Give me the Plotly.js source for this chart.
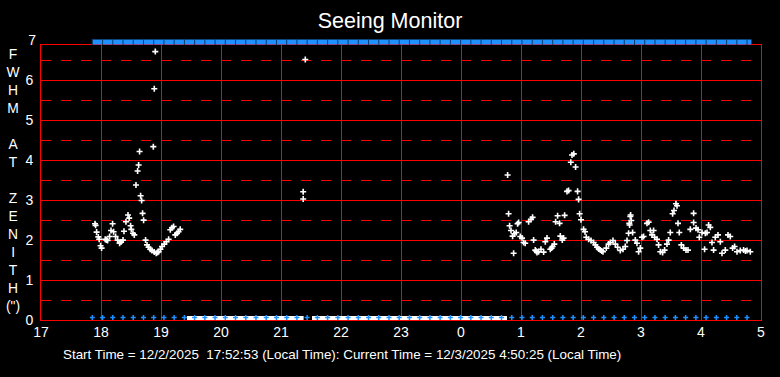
<!DOCTYPE html>
<html>
<head>
<meta charset="utf-8">
<script src="https://cdn.plot.ly/plotly-3.0.1.min.js"></script>
<style>
html,body{margin:0;padding:0;background:#000;}
#chart{width:780px;height:377px;}
</style>
</head>
<body>
<div id="chart"></div>
<script>
// ---- data (hours; values after midnight continue as 24+) ----
var xTickVals = [17, 18, 19, 20, 21, 22, 23, 24, 25, 26, 27, 28, 29];
var xTickText = ['17', '18', '19', '20', '21', '22', '23', '0', '1', '2', '3', '4', '5'];
var yTickVals = [0, 1, 2, 3, 4, 5, 6];
var yTopTickVals = [7];

var fwhmTime = [
  17.900, 17.910, 17.927, 17.955, 17.970, 17.993, 18.010, 18.070, 18.090, 18.110, 18.143, 18.167,
  18.193, 18.210, 18.243, 18.277, 18.310, 18.333, 18.367, 18.383, 18.416, 18.450, 18.470, 18.493,
  18.505, 18.533, 18.555, 18.583, 18.610, 18.627, 18.643, 18.660, 18.677, 18.693, 18.710, 18.743,
  18.767, 18.793, 18.820, 18.850, 18.872, 18.888, 18.888, 18.905, 18.920, 18.940, 18.960, 18.990,
  19.017, 19.055, 19.090, 19.127, 19.155, 19.183, 19.210, 19.238, 19.267, 19.293, 19.320,
  21.370, 21.370, 21.405,
  24.777, 24.793, 24.810, 24.833, 24.860, 24.877, 24.888, 24.920, 24.943, 24.960, 24.988, 25.017,
  25.043, 25.070, 25.127, 25.167, 25.193, 25.210, 25.238, 25.255, 25.267, 25.293, 25.333, 25.377,
  25.405, 25.433, 25.488, 25.510, 25.527, 25.555, 25.577, 25.610, 25.643, 25.655, 25.688, 25.710,
  25.727, 25.767, 25.793, 25.830, 25.850, 25.880, 25.910, 25.943, 25.960, 25.977, 26.000, 26.043,
  26.067, 26.088, 26.127, 26.167, 26.210, 26.240, 26.267, 26.295, 26.322, 26.345, 26.367, 26.422,
  26.460, 26.488, 26.533, 26.572, 26.610, 26.655, 26.700, 26.738, 26.767, 26.793, 26.805, 26.810,
  26.822, 26.827, 26.838, 26.860, 26.905, 26.933, 26.960, 26.988, 27.017, 27.043, 27.100, 27.127,
  27.155, 27.183, 27.210, 27.227, 27.267, 27.293, 27.322, 27.360, 27.393, 27.433, 27.460, 27.488,
  27.527, 27.550, 27.583, 27.600, 27.617, 27.638, 27.672, 27.710, 27.750, 27.783, 27.822, 27.877,
  27.877, 27.917, 27.950, 27.972, 28.017, 28.060, 28.072, 28.100, 28.127, 28.155, 28.183, 28.210,
  28.238, 28.283, 28.322, 28.350, 28.405, 28.450, 28.488, 28.527, 28.560, 28.600, 28.655, 28.710,
  28.740, 28.767, 28.822
];
var fwhmValue = [
  2.41, 2.37, 2.20, 2.08, 2.02, 1.86, 1.80, 2.02, 2.00, 1.99, 2.09, 2.24,
  2.41, 2.21, 2.09, 2.00, 1.92, 1.95, 2.00, 2.22, 2.46, 2.63, 2.55, 2.36,
  2.27, 2.17, 2.13, 3.38, 3.73, 3.88, 4.22, 3.11, 2.99, 2.67, 2.50, 2.00,
  1.88, 1.82, 1.77, 1.74, 4.34, 1.70, 5.79, 6.72, 1.67, 1.69, 1.71, 1.77,
  1.84, 1.90, 1.96, 2.02, 2.26, 2.31, 2.34, 2.13, 2.17, 2.21, 2.27,
  3.21, 3.03, 6.52,
  3.63, 2.66, 2.36, 2.24, 2.10, 1.67, 2.16, 2.19, 2.41, 2.44, 2.09, 2.05,
  1.94, 1.92, 2.46, 2.52, 2.57, 2.00, 1.75, 1.72, 1.69, 1.71, 1.77, 1.70,
  1.96, 2.05, 1.77, 1.80, 1.84, 1.90, 2.46, 2.61, 2.42, 2.10, 2.00, 2.05,
  2.62, 3.22, 3.24, 3.95, 4.13, 4.16, 3.83, 3.22, 3.02, 2.66, 2.51, 2.27,
  2.21, 2.07, 2.02, 1.99, 1.94, 1.88, 1.82, 1.78, 1.75, 1.73, 1.71, 1.80,
  1.90, 1.94, 1.99, 1.90, 1.82, 1.74, 1.77, 1.84, 1.99, 2.17, 2.42, 2.38,
  2.59, 2.63, 2.49, 2.19, 2.00, 1.92, 1.71, 1.80, 2.07, 2.09, 2.42, 2.45,
  2.24, 2.13, 2.24, 2.07, 2.02, 1.88, 1.71, 1.69, 1.75, 1.90, 2.00, 2.19,
  2.66, 2.74, 2.91, 2.86, 2.42, 2.19, 1.88, 1.80, 1.75, 1.75, 2.27, 2.67,
  2.44, 2.30, 2.26, 2.07, 2.19, 1.77, 2.17, 2.19, 2.38, 2.32, 1.94, 1.75,
  2.07, 2.13, 1.96, 1.67, 1.75, 2.13, 2.09, 1.80, 1.84, 1.71, 1.74, 1.75,
  1.73, 1.74, 1.71
];

// 10-minute status marks (top row and bottom row share these times)
var statusTime = [
  17.855, 18.026, 18.196, 18.367, 18.537, 18.708, 18.878, 19.049, 19.219, 19.390,
  19.560, 19.731, 19.901, 20.072, 20.242, 20.413, 20.583, 20.754, 20.924, 21.095,
  21.265, 21.436, 21.606, 21.777, 21.947, 22.118, 22.288, 22.459, 22.629, 22.800,
  22.970, 23.141, 23.311, 23.482, 23.652, 23.823, 23.993, 24.164, 24.334, 24.505,
  24.675, 24.846, 25.016, 25.187, 25.357, 25.528, 25.698, 25.869, 26.039, 26.210,
  26.380, 26.551, 26.721, 26.892, 27.062, 27.233, 27.403, 27.574, 27.744, 27.915,
  28.085, 28.256, 28.426, 28.597, 28.767, 28.840
];
var statusTopLevel = 6.96;
var statusBottomLevel = 0.06;

// periods with no valid measurement (drawn as white band on the baseline)
var noDataX = [19.433, 21.377, null, 21.517, 24.767];
var noDataY = [0.05, 0.05, null, 0.05, 0.05];

var yTitleLetters = ['F', 'W', 'H', 'M', '', 'A', 'T', '', 'Z', 'E', 'N', 'I', 'T', 'H', '(")'];
var chartTitle = 'Seeing Monitor';
var footerText = 'Start Time = 12/2/2025\u00a0 17:52:53 (Local Time): Current Time = 12/3/2025 4:50:25 (Local Time)';

// ---- styling ----
var FONT = 'Liberation Sans, Arial, sans-serif';
var RED = '#ff0000';
var BLUE = '#1e90ff';
var MAIN_TOP = 6.885;     // frame top (just under 7)
var STRIP_TOP = 7.06;
var MAIN_DOMAIN_TOP = 0.9752;

var bottomTimes = statusTime.slice(0, statusTime.length - 1);

var traces = [
  {
    x: noDataX, y: noDataY, type: 'scatter', mode: 'lines',
    line: {color: '#ffffff', width: 4}, hoverinfo: 'skip', showlegend: false
  },
  {
    x: bottomTimes, y: bottomTimes.map(function(){ return statusBottomLevel; }),
    type: 'scatter', mode: 'markers',
    marker: {symbol: 'cross-thin', size: 3.6, color: BLUE, line: {color: BLUE, width: 1.5}},
    showlegend: false
  },
  {
    x: statusTime, y: statusTime.map(function(){ return statusTopLevel; }),
    xaxis: 'x2', yaxis: 'y2',
    type: 'scatter', mode: 'lines',
    line: {color: BLUE, width: 5},
    showlegend: false
  },
  {
    x: bottomTimes, y: bottomTimes.map(function(){ return statusTopLevel; }),
    xaxis: 'x2', yaxis: 'y2',
    type: 'scatter', mode: 'markers',
    marker: {symbol: 'line-ns', size: 4.6, color: '#0a3a70', line: {color: '#0a3a70', width: 1}},
    showlegend: false
  },
  {
    x: fwhmTime, y: fwhmValue, type: 'scatter', mode: 'markers',
    marker: {symbol: 'cross-thin', size: 4.3, color: '#ffffff', line: {color: '#ffffff', width: 1.6}},
    showlegend: false
  }
];

var tickFont = {family: FONT, size: 14, color: '#ffffff'};

var layout = {
  width: 780, height: 377,
  paper_bgcolor: '#000000', plot_bgcolor: '#000000',
  margin: {l: 41, r: 19, t: 38, b: 57, pad: 0},
  font: {family: FONT, color: '#ffffff', size: 14},
  title: {text: chartTitle, font: {family: FONT, size: 21.5, color: '#ffffff'},
          x: 0.5, xref: 'container', y: 1 - 20 / 377, yref: 'container', yanchor: 'middle'},
  showlegend: false,
  xaxis: {
    range: [17, 29], tickvals: xTickVals, ticktext: xTickText,
    showgrid: true, gridcolor: RED, gridwidth: 1,
    showline: true, linecolor: RED, linewidth: 1, mirror: true,
    zeroline: false, ticks: '', ticklen: 0, ticklabelstandoff: -1,
    tickfont: tickFont, fixedrange: true, anchor: 'y'
  },
  yaxis: {
    domain: [0, MAIN_DOMAIN_TOP],
    range: [0, MAIN_TOP], tickvals: yTickVals,
    showgrid: true, gridcolor: RED, gridwidth: 1,
    minor: {dtick: 1, tick0: 0.5, showgrid: true, gridcolor: RED, gridwidth: 1, griddash: '10px,10px', ticks: ''},
    showline: true, linecolor: RED, linewidth: 1, mirror: true,
    zeroline: false, ticks: '', ticklen: 0, ticklabelstandoff: 4,
    tickfont: tickFont, fixedrange: true, anchor: 'x'
  },
  xaxis2: {
    matches: 'x', anchor: 'y2', showgrid: false, showline: false, zeroline: false,
    showticklabels: false, ticks: '', fixedrange: true
  },
  yaxis2: {
    domain: [MAIN_DOMAIN_TOP, 1], range: [MAIN_TOP, STRIP_TOP], anchor: 'x2',
    tickvals: yTopTickVals, showgrid: false, showline: false, zeroline: false,
    ticks: '', ticklen: 0, ticklabelstandoff: 4, tickfont: tickFont, fixedrange: true
  },
  annotations: [
    {text: yTitleLetters.join('<br>'), xref: 'paper', yref: 'paper', x: -0.038, y: 0.4965,
     xanchor: 'center', yanchor: 'middle', align: 'center', showarrow: false,
     font: {family: FONT, size: 13.85, color: '#ffffff'}},
    {text: footerText, xref: 'paper', yref: 'paper', x: 0.418, y: -0.124,
     xanchor: 'center', yanchor: 'middle', showarrow: false,
     font: {family: FONT, size: 13.4, color: '#ffffff'}}
  ]
};

Plotly.newPlot('chart', traces, layout, {displayModeBar: false, staticPlot: true});
</script>
</body>
</html>
